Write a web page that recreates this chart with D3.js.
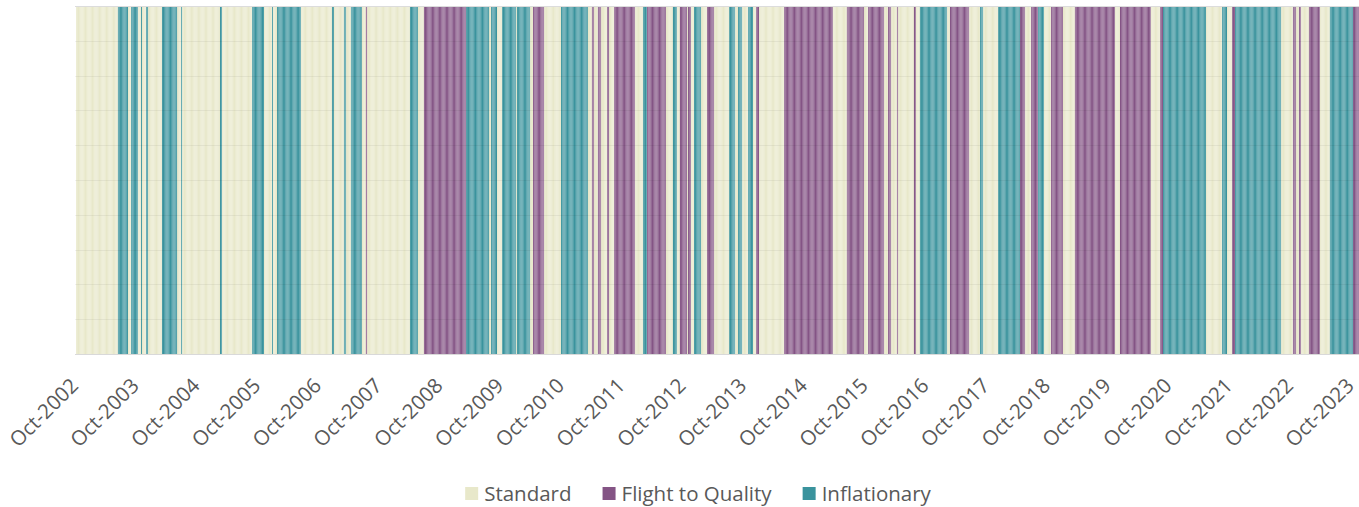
<!DOCTYPE html>
<html>
<head>
<meta charset="utf-8">
<script src="https://cdn.jsdelivr.net/npm/d3@7"></script>
<style>
  body { margin: 0; background: #fff; }
  text { font-family: "Open Sans", sans-serif; fill: #595959; }
</style>
</head>
<body>
<div id="chart"></div>
<script>
// regime names and colours
var categories = ["Standard", "Flight to Quality", "Inflationary"];
var colors = ["#E8E8CA", "#845485", "#3A939D"];

// start date of every regime run (0 = Standard, 1 = Flight, 2 = Inflationary)
var runStarts = [
  "2002-10-01","2003-06-10","2003-08-10","2003-08-28","2003-10-09","2003-10-27","2003-11-02","2003-11-26",
  "2003-12-08","2004-03-01","2004-05-31","2004-06-24","2004-06-30","2005-02-13","2005-02-25","2005-08-25",
  "2005-11-05","2005-12-23","2005-12-29","2006-01-22","2006-06-15","2006-12-18","2006-12-30","2007-02-28",
  "2007-03-12","2007-04-11","2007-06-16","2007-07-10","2007-07-17","2008-03-31","2008-05-18","2008-06-23",
  "2009-03-03","2009-07-20","2009-08-01","2009-09-06","2009-10-06","2009-12-29","2010-01-04","2010-03-23",
  "2010-04-10","2010-06-15","2010-09-25","2011-03-06","2011-03-30","2011-04-11","2011-05-05","2011-05-23",
  "2011-06-29","2011-07-11","2011-08-10","2011-12-14","2012-01-31","2012-02-24","2012-06-17","2012-07-29",
  "2012-08-22","2012-09-09","2012-10-22","2012-10-28","2012-11-15","2012-12-03","2013-01-14","2013-02-19",
  "2013-04-02","2013-07-02","2013-08-07","2013-08-25","2013-09-18","2013-10-24","2013-11-23","2013-12-11",
  "2013-12-29","2014-05-28","2015-03-18","2015-06-10","2015-09-21","2015-10-15","2016-01-19","2016-02-12",
  "2016-03-01","2016-04-06","2016-04-12","2016-07-17","2016-07-29","2016-08-22","2017-02-01","2017-02-19",
  "2017-06-14","2017-08-19","2017-09-06","2017-12-05","2018-04-16","2018-05-16","2018-06-21","2018-08-02",
  "2018-09-07","2018-10-19","2018-12-30","2019-03-12","2019-11-08","2019-12-08","2020-06-11","2020-08-05",
  "2020-08-23","2021-05-08","2021-08-13","2021-09-12","2021-10-12","2021-10-30","2022-08-02","2022-10-13",
  "2022-10-31","2022-11-18","2022-11-30","2023-01-17","2023-03-24","2023-05-23","2023-10-09"
];
var runRegimes = [
  0,2,0,2,0,2,0,2,
  0,2,0,2,0,2,0,2,
  0,2,0,2,0,2,0,2,
  0,2,0,1,0,2,0,1,
  2,0,2,0,2,0,2,0,
  1,0,2,0,1,0,1,0,
  1,0,1,0,2,1,0,2,
  0,1,0,1,0,2,0,1,
  0,2,0,2,0,2,0,1,
  0,1,0,1,0,1,0,1,
  0,1,0,1,0,2,0,1,
  0,2,0,2,1,0,1,2,
  0,1,0,1,0,1,0,1,
  2,0,2,0,1,2,0,1,
  0,1,0,1,0,2,1
];
var lastDate = "2023-11-14";

var tickLabels = ["Oct-2002","Oct-2003","Oct-2004","Oct-2005","Oct-2006","Oct-2007","Oct-2008",
  "Oct-2009","Oct-2010","Oct-2011","Oct-2012","Oct-2013","Oct-2014","Oct-2015","Oct-2016",
  "Oct-2017","Oct-2018","Oct-2019","Oct-2020","Oct-2021","Oct-2022","Oct-2023"];

var margin = {top: 6, right: 0, bottom: 153, left: 76},
    width = 1359 - margin.left - margin.right,
    height = 507 - margin.top - margin.bottom;

var parseDay = d3.timeParse("%Y-%m-%d");
var parseTick = d3.timeParse("%b-%Y");

var runs = runStarts.map(function(s, i) {
  return {
    start: parseDay(s),
    end: parseDay(i < runStarts.length - 1 ? runStarts[i + 1] : lastDate),
    regime: runRegimes[i]
  };
});

// split every run into weekly columns like the original column chart
var bars = [];
runs.forEach(function(r) {
  var weeks = d3.timeWeek.range(r.start, r.end);
  if (!weeks.length || +weeks[0] !== +r.start) weeks.unshift(r.start);
  weeks.forEach(function(w, j) {
    var e = j < weeks.length - 1 ? weeks[j + 1] : r.end;
    if (+e > +w) bars.push({start: w, end: e, regime: r.regime});
  });
});

var x = d3.scaleTime()
    .domain([runs[0].start, parseDay(lastDate)])
    .range([0, width]);

var y = d3.scaleLinear()
    .domain([0, 1])
    .range([height, 0]);

var svg = d3.select("#chart")
    .append("svg")
    .attr("width", 1359)
    .attr("height", 507)
    .append("g")
    .attr("transform", "translate(" + margin.left + "," + margin.top + ")");

svg.selectAll(".bar")
    .data(bars)
  .enter().append("rect")
    .attr("class", "bar")
    .attr("x", function(d) { return x(d.start); })
    .attr("width", function(d) { return Math.max(0.6, (x(d.end) - x(d.start)) * 0.9); })
    .attr("y", y(1))
    .attr("height", y(0) - y(1))
    .attr("fill", function(d) { return colors[d.regime]; });

// gridlines sit lightly over the columns
svg.append("g")
    .attr("class", "grid")
    .selectAll("line")
    .data(d3.range(1, 11).map(function(i) { return i / 10; }))
  .enter().append("line")
    .attr("x1", -1)
    .attr("x2", width)
    .attr("y1", function(d) { return Math.round(y(d)) + 0.5; })
    .attr("y2", function(d) { return Math.round(y(d)) + 0.5; })
    .attr("stroke", function(d) { return d === 1 ? "#dcdcdc" : "#000"; })
    .attr("stroke-opacity", function(d) { return d === 1 ? 1 : 0.05; });

// x axis
var ticks = tickLabels.map(function(t) { return parseTick(t); });
var xAxis = d3.axisBottom(x)
    .tickValues(ticks)
    .tickSize(0)
    .tickFormat(d3.timeFormat("%b-%Y"));

var gx = svg.append("g")
    .attr("class", "x axis")
    .attr("transform", "translate(0," + height + ")")
    .call(xAxis);

gx.select(".domain")
    .attr("stroke", "#d9d9d9")
    .attr("d", "M-1,0.5H" + width);

gx.selectAll("text")
    .attr("fill", "#595959")
    .style("font-size", "20.5px")
    .attr("text-anchor", "end")
    .attr("dy", null)
    .attr("y", 0)
    .attr("transform", "translate(3,33) rotate(-45)");

// legend
var legend = d3.select("svg").append("g")
    .attr("class", "legend");

var lx = 0;
var items = legend.selectAll("g")
    .data(categories)
  .enter().append("g");

items.append("rect")
    .attr("width", 13)
    .attr("height", 13)
    .attr("y", -7)
    .attr("fill", function(d, i) { return colors[i]; });

items.append("text")
    .attr("x", 19)
    .attr("y", 0)
    .attr("dy", "0.35em")
    .style("font-size", "20.5px")
    .text(function(d) { return d; });

items.each(function() {
  var g = d3.select(this);
  g.attr("transform", "translate(" + lx + ",0)");
  lx += 19 + g.select("text").node().getComputedTextLength() + 31;
});
var legendWidth = lx - 31;
legend.attr("transform", "translate(" + (698 - legendWidth / 2) + ",494)");
</script>
</body>
</html>
